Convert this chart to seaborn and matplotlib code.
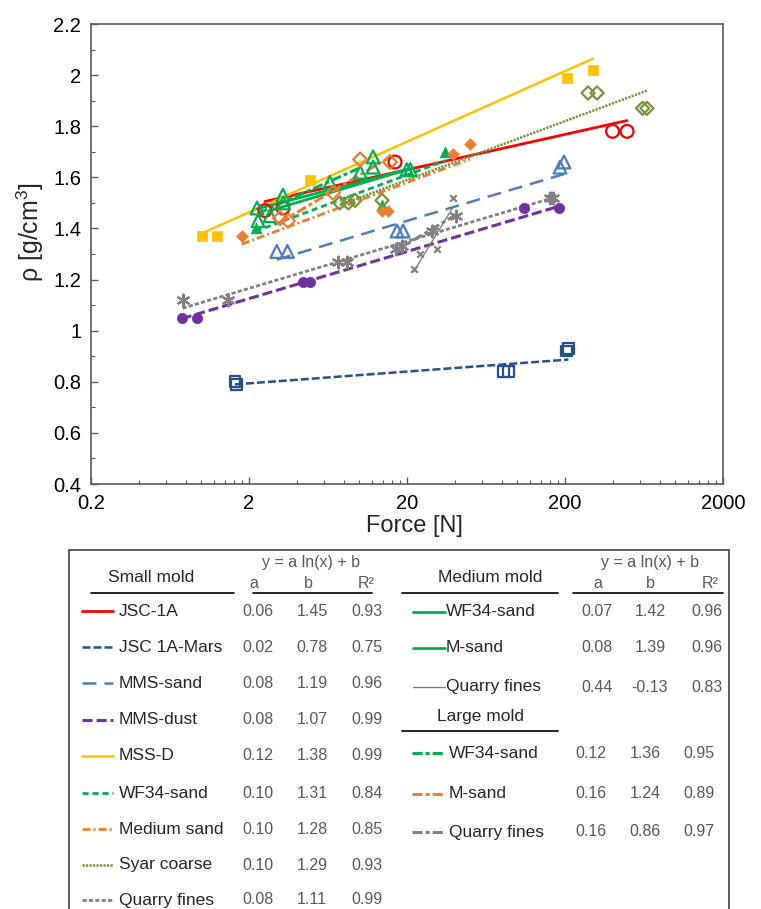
import numpy as np
import pandas as pd
import matplotlib
matplotlib.use("Agg")
import matplotlib.pyplot as plt
from matplotlib.lines import Line2D
from matplotlib.patches import Rectangle
from matplotlib.ticker import FixedLocator, NullFormatter, FuncFormatter, MultipleLocator
import seaborn as sns

# ---------------------------------------------------------------------------
# Measured compaction data: applied force [N] vs. bulk density [g/cm3]
# ---------------------------------------------------------------------------
# Small mold
jsc1a_force = [2.52, 3.28, 16.8, 400, 494]
jsc1a_rho = [1.47, 1.48, 1.66, 1.78, 1.78]

jscmars_force = [1.63, 1.66, 82, 88, 205, 210]
jscmars_rho = [0.80, 0.79, 0.84, 0.84, 0.92, 0.93]

mmssand_force = [3.0, 3.5, 17.3, 18.9, 186, 197]
mmssand_rho = [1.31, 1.31, 1.39, 1.39, 1.64, 1.66]

mmsdust_force = [0.75, 0.94, 4.4, 4.9, 110, 183]
mmsdust_rho = [1.05, 1.05, 1.19, 1.19, 1.48, 1.48]

mssd_force = [1.01, 1.25, 4.87, 206, 300]
mssd_rho = [1.37, 1.37, 1.59, 1.99, 2.02]

wf34_small_force = [2.2, 13.9, 34.8]
wf34_small_rho = [1.40, 1.49, 1.70]

medsand_force = [1.8, 13.9, 15.2, 39, 50]
medsand_rho = [1.37, 1.47, 1.47, 1.69, 1.73]

syar_force = [7.5, 8.5, 9.4, 13.9, 280, 319, 620, 660]
syar_rho = [1.50, 1.50, 1.51, 1.51, 1.93, 1.93, 1.87, 1.87]

qf_small_force = [0.76, 1.47, 7.3, 8.3, 161, 168]
qf_small_rho = [1.12, 1.12, 1.27, 1.27, 1.52, 1.52]

# Medium mold
wf34_med_force = [2.25, 3.28, 12.2, 21]
wf34_med_rho = [1.48, 1.53, 1.64, 1.63]

msand_med_force = [2.72, 6.5, 12.2, 20]
msand_med_rho = [1.45, 1.58, 1.68, 1.63]

qf_med_force = [22, 24, 31, 39]
qf_med_rho = [1.24, 1.30, 1.32, 1.52]

# Large mold
wf34_large_force = [2.28, 3.3, 10.1]
wf34_large_rho = [1.43, 1.50, 1.62]

msand_large_force = [3.14, 3.53, 6.8, 10.1, 15.6]
msand_large_rho = [1.44, 1.43, 1.54, 1.67, 1.66]

qf_large_force = [17, 18.5, 29, 41]
qf_large_rho = [1.32, 1.33, 1.39, 1.45]

# Logarithmic fits  y = a ln(x) + b
small_names = ["JSC-1A", "JSC 1A-Mars", "MMS-sand", "MMS-dust", "MSS-D",
               "WF34-sand", "Medium sand", "Syar coarse", "Quarry fines"]
small_a = [0.06, 0.02, 0.08, 0.08, 0.12, 0.10, 0.10, 0.10, 0.08]
small_b = [1.45, 0.78, 1.19, 1.07, 1.38, 1.31, 1.28, 1.29, 1.11]
small_r2 = [0.93, 0.75, 0.96, 0.99, 0.99, 0.84, 0.85, 0.93, 0.99]

medium_names = ["WF34-sand", "M-sand", "Quarry fines"]
medium_a = [0.07, 0.08, 0.44]
medium_b = [1.42, 1.39, -0.13]
medium_r2 = [0.96, 0.96, 0.83]

large_names = ["WF34-sand", "M-sand", "Quarry fines"]
large_a = [0.12, 0.16, 0.16]
large_b = [1.36, 1.24, 0.86]
large_r2 = [0.95, 0.89, 0.97]

x_ticks = [0.2, 2, 20, 200, 2000]
y_ticks = [0.4, 0.6, 0.8, 1.0, 1.2, 1.4, 1.6, 1.8, 2.0, 2.2]

# ---------------------------------------------------------------------------
# Styling
# ---------------------------------------------------------------------------
RED, NAVY, LBLUE, PURPLE = "#FF0000", "#25508F", "#4A7EBB", "#7030A0"
GOLD, GREEN, ORANGE, OLIVE, GRAY = "#FFC000", "#00B050", "#ED7D31", "#77933C", "#808080"
STAR = (6, 2, 0)

# (force, rho, color, linestyle, linewidth, marker, open?, size)
small_series = [
    (jsc1a_force, jsc1a_rho, RED, "-", 2.0, "o", True, 85),
    (jscmars_force, jscmars_rho, NAVY, (0, (3.2, 1.2)), 1.8, "s", True, 60),
    (mmssand_force, mmssand_rho, LBLUE, (0, (5.6, 3.2)), 1.8, "^", True, 85),
    (mmsdust_force, mmsdust_rho, PURPLE, (0, (3.3, 1.3)), 2.2, "o", False, 55),
    (mssd_force, mssd_rho, GOLD, "-", 1.8, "s", False, 45),
    (wf34_small_force, wf34_small_rho, GREEN, (0, (2.2, 1.4)), 2.0, "^", False, 60),
    (medsand_force, medsand_rho, ORANGE, (0, (2.9, 1.1, 0.7, 1.1)), 2.0, "D", False, 35),
    (syar_force, syar_rho, OLIVE, (0, (0.9, 0.5)), 1.8, "D", True, 45),
    (qf_small_force, qf_small_rho, GRAY, (0, (1.5, 0.8)), 2.0, STAR, False, 70),
]
medium_series = [
    (wf34_med_force, wf34_med_rho, GREEN, "-", 2.0, "^", True, 85),
    (msand_med_force, msand_med_rho, GREEN, "-", 2.0, "^", True, 85),
    (qf_med_force, qf_med_rho, GRAY, "-", 1.0, "x", False, 22),
]
large_series = [
    (wf34_large_force, wf34_large_rho, GREEN, (0, (3.3, 1.0, 1.3, 1.0)), 2.2, "^", True, 85),
    (msand_large_force, msand_large_rho, ORANGE, (0, (3.3, 1.0, 1.3, 1.0)), 2.2, "D", True, 50),
    (qf_large_force, qf_large_rho, GRAY, (0, (3.3, 1.0, 1.3, 1.0)), 2.2, STAR, False, 70),
]

W, H = 761, 909

sns.set_theme(style="white")
plt.rcParams["font.family"] = ["Liberation Sans", "DejaVu Sans"]
plt.rcParams["mathtext.fontset"] = "custom"
plt.rcParams["mathtext.rm"] = "Liberation Sans"
plt.rcParams["mathtext.it"] = "Liberation Sans:italic"
plt.rcParams["mathtext.default"] = "regular"

fig = plt.figure(figsize=(W / 100, H / 100), dpi=100)


def fx(px):
    return px / W


def fy(py):
    return 1 - py / H


ax = fig.add_axes([fx(91), fy(484), fx(723) - fx(91), fy(24) - fy(484)])
ax.set_xscale("log")


def draw(series, coefs_a, coefs_b):
    for (force, rho, color, ls, lw, marker, hollow, size), a, b in zip(series, coefs_a, coefs_b):
        xs = np.array([min(force), max(force)], dtype=float)
        fit = pd.DataFrame({"Force": xs, "rho": a * np.log(xs) + b})
        sns.lineplot(data=fit, x="Force", y="rho", ax=ax, color=color,
                     linestyle=ls, linewidth=lw, zorder=2)
        pts = pd.DataFrame({"Force": force, "rho": rho})
        if marker in ("x", STAR):
            sns.scatterplot(data=pts, x="Force", y="rho", ax=ax, marker=marker,
                            s=size, color=color, linewidth=1.6, zorder=3)
        elif hollow:
            sns.scatterplot(data=pts, x="Force", y="rho", ax=ax, marker=marker,
                            s=size, color=color, facecolor="none", edgecolor=color,
                            linewidth=1.6, zorder=3)
        else:
            sns.scatterplot(data=pts, x="Force", y="rho", ax=ax, marker=marker,
                            s=size, color=color, edgecolor=color,
                            linewidth=0.5, zorder=3)


draw(small_series, small_a, small_b)
draw(medium_series, medium_a, medium_b)
draw(large_series, large_a, large_b)

ax.set_xlim(0.2, 2000)
ax.set_ylim(0.4, 2.2)
ax.set_xlabel("")
ax.set_ylabel("")

ax.xaxis.set_major_locator(FixedLocator(x_ticks))
ax.xaxis.set_minor_locator(FixedLocator([t * k for t in x_ticks[:-1] for k in range(2, 10)]))
ax.xaxis.set_major_formatter(FuncFormatter(lambda v, _: f"{v:g}"))
ax.xaxis.set_minor_formatter(NullFormatter())
ax.yaxis.set_major_locator(FixedLocator(y_ticks))
ax.yaxis.set_minor_locator(MultipleLocator(0.1))
ax.yaxis.set_major_formatter(FuncFormatter(lambda v, _: f"{round(v, 1):g}"))

ax.tick_params(which="both", direction="in", color="#595959", bottom=True, left=True,
               top=False, right=False)
ax.tick_params(which="major", length=5, width=1.0, labelsize=14.5, pad=7, labelcolor="black")
ax.tick_params(which="minor", length=3, width=0.8)
for sp in ax.spines.values():
    sp.set_color("#595959")
    sp.set_linewidth(1.2)
ax.grid(False)

fig.text(fx(30), fy(232), r"ρ [g/cm$^3$]", rotation=90, fontsize=18,
         ha="center", va="center")
fig.text(fx(414), fy(526), "Force [N]", fontsize=17, ha="center", va="center")

# ---------------------------------------------------------------------------
# Fit table below the plot
# ---------------------------------------------------------------------------
NUMC = "#595959"
fig.add_artist(Rectangle((fx(69), fy(930)), fx(729) - fx(69), fy(550) - fy(930),
                         transform=fig.transFigure, fill=False,
                         edgecolor="#404040", linewidth=1.2))


def hline(x0, x1, y, **kw):
    fig.add_artist(Line2D([fx(x0), fx(x1)], [fy(y), fy(y)], transform=fig.transFigure, **kw))


def header(title, tx, ty, ul):
    fig.text(fx(tx), fy(ty), title, fontsize=12.5, ha="center", va="center")
    hline(ul[0], ul[1], ty + 15, color="black", linewidth=1.2)


def coef_header(eq_x, cols, ul):
    fig.text(fx(eq_x), fy(563), "y = a ln(x) + b", fontsize=11.5, color=NUMC,
             ha="center", va="center")
    for lab, cx in zip(["a", "b", "R²"], cols):
        fig.text(fx(cx), fy(584), lab, fontsize=11.5, color=NUMC, ha="center", va="center")
    hline(ul[0], ul[1], 593, color="black", linewidth=1.2)


def rows(series, names, a, b, r2, ys, line_x, text_x, cols):
    for (force, rho, color, ls, lw, marker, hollow, size), nm, va_, vb, vr, y in zip(
            series, names, a, b, r2, ys):
        fig.add_artist(Line2D([fx(line_x[0]), fx(line_x[1])], [fy(y), fy(y)],
                              transform=fig.transFigure, color=color,
                              linestyle=ls, linewidth=lw))
        fig.text(fx(text_x), fy(y), nm, fontsize=12.5, ha="left", va="center")
        for v, cx in zip([va_, vb, vr], cols):
            fig.text(fx(cx), fy(y), f"{v:.2f}", fontsize=11.5, color=NUMC,
                     ha="center", va="center")


# Small mold column
header("Small mold", 151, 578, (91, 234))
coef_header(311, (254, 308, 366), (253, 372))
rows(small_series, small_names, small_a, small_b, small_r2,
     [611, 647, 683, 720, 756, 793, 829, 865, 900], (82, 113), 119, (258, 312, 367))

# Medium mold column
header("Medium mold", 490, 578, (402, 558))
coef_header(650, (598, 650, 710), (573, 723))
rows(medium_series, medium_names, medium_a, medium_b, medium_r2,
     [612, 648, 687], (413, 445), 446, (597, 650, 707))

# Large mold column
header("Large mold", 481, 716, (402, 558))
rows(large_series, large_names, large_a, large_b, large_r2,
     [753, 794, 832], (412, 443), 449, (591, 645, 699))

fig.savefig("out.png", dpi=100)
